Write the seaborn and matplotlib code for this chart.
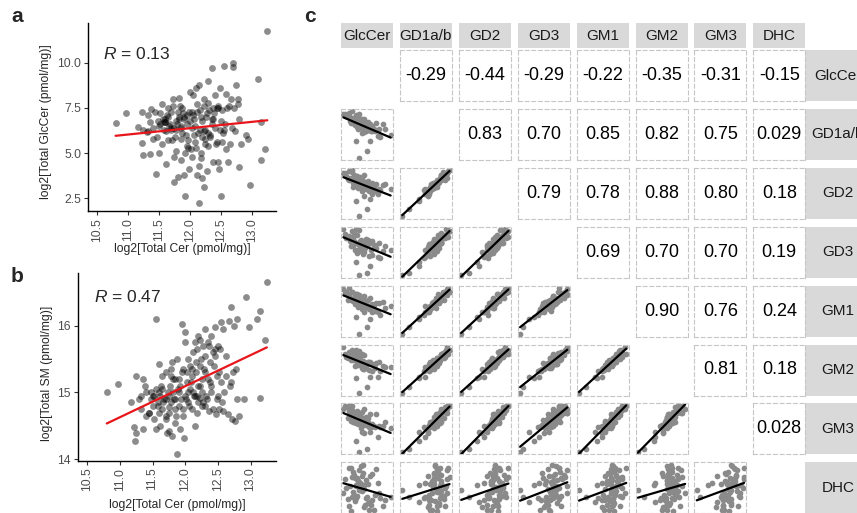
import numpy as np
import pandas as pd
import matplotlib.pyplot as plt
import seaborn as sns

# ---- panels a / b : per-sample totals (log2 pmol/mg) ----
cer = [10.80, 10.97, 11.23, 11.17, 11.25, 11.22, 11.25, 11.35, 11.30, 11.35, 11.38, 11.32, 11.40, 11.40,
       11.45, 11.47, 11.50, 11.52, 11.55, 11.55, 11.58, 11.60, 11.62, 11.62, 11.65, 11.65, 11.68, 11.60, 11.50, 11.48, 11.70, 11.70,
       11.72, 11.75, 11.75, 11.75, 11.78, 11.78, 11.80, 11.80, 11.82, 11.82, 11.85, 11.85, 11.88, 11.88, 11.90, 11.92, 11.92,
       11.95, 11.95, 11.97, 11.98, 11.90, 11.85, 12.00, 12.00,
       12.02, 12.03, 12.05, 12.05, 12.07, 12.08, 12.10, 12.10, 12.12, 12.12, 12.15, 12.15, 12.15, 12.17, 12.18, 12.18,
       12.20, 12.20, 12.22, 12.22, 12.22, 12.25, 12.25, 12.27, 12.28, 12.30, 12.30, 12.30,
       12.32, 12.35, 12.35, 12.37, 12.38, 12.40, 12.40, 12.42, 12.45, 12.45, 12.47, 12.48, 12.50, 12.50, 12.52, 12.52,
       12.55, 12.55, 12.58, 12.58, 12.60,
       12.62, 12.65, 12.67, 12.70, 12.70, 12.72, 12.73, 12.75, 12.77, 12.78, 12.80, 12.80, 12.83, 12.90, 12.93, 12.97,
       13.10, 13.15, 13.15, 13.22, 13.25,
       11.52, 11.56, 11.60, 11.63, 11.66, 11.70, 11.73, 11.76, 11.79, 11.83, 11.86, 11.89, 11.93, 11.96, 11.99,
       12.03, 12.06, 12.09, 12.13, 12.16, 12.19, 12.23, 12.26, 12.29, 12.33, 12.36, 12.39, 12.43, 12.46, 12.49,
       11.58, 11.64, 11.71, 11.77, 11.84, 11.91, 11.97, 12.04, 12.11, 12.18, 12.24, 12.31, 12.38, 12.44, 12.53,
       12.57, 12.63, 12.68, 11.44, 11.33]

glccer = [6.65, 7.2, 7.3, 6.45, 6.3, 5.55, 4.9, 4.95, 6.15, 6.7, 7.45, 7.1, 5.8, 6.4,
          3.85, 5.9, 6.5, 7.2, 5.5, 7.7, 6.7, 6.75, 4.4, 6.2, 7.5, 5.7, 6.6, 6.9, 5.0, 6.8, 7.3, 6.4,
          8.0, 6.4, 4.8, 3.4, 6.3, 5.1, 7.3, 3.65, 6.9, 8.05, 5.8, 4.6, 7.5, 6.1, 3.8, 2.6, 5.0,
          7.1, 6.6, 5.7, 4.1, 7.0, 6.5, 8.4, 6.8,
          5.2, 4.8, 7.1, 8.2, 6.0, 6.5, 8.6, 5.3, 7.3, 3.8, 2.25, 4.3, 8.8, 6.3, 7.0, 5.0,
          3.6, 6.8, 8.0, 7.6, 3.1, 5.8, 6.3, 4.0, 7.2, 9.0, 6.1, 7.8,
          5.9, 9.7, 6.9, 4.5, 7.5, 8.2, 6.4, 5.5, 7.5, 4.5, 4.1, 8.6, 2.6, 6.8, 5.6, 7.4,
          9.85, 6.3, 8.3, 5.2, 7.5,
          4.5, 5.5, 8.0, 10.0, 9.8, 7.5, 6.2, 8.8, 8.0, 7.7, 6.9, 4.2, 5.5, 6.0, 5.8, 3.25,
          9.1, 6.7, 4.6, 5.2, 11.75,
          6.6, 6.9, 6.7, 7.1, 6.5, 6.3, 7.6, 5.9, 6.6, 7.0, 6.4, 7.2, 6.0, 5.4, 7.3,
          7.3, 6.9, 5.6, 6.1, 7.4, 5.9, 6.2, 7.0, 5.4, 6.0, 6.6, 7.2, 5.6, 7.6, 6.3,
          6.3, 7.0, 5.7, 6.8, 7.6, 6.9, 5.3, 6.4, 7.7, 4.7, 5.5, 7.4, 6.9, 7.5, 6.1,
          6.6, 7.6, 6.4, 7.3, 6.2]

sm = [15.0, 15.12, 14.27, 14.85, 15.25, 14.48, 14.4, 14.45, 14.9, 15.2, 15.1, 14.75, 14.65, 15.0,
      14.7, 15.0, 14.95, 14.6, 16.1, 14.45, 14.85, 15.42, 14.5, 14.95, 15.05, 14.75, 14.9, 15.0, 14.8, 14.9, 15.3, 14.6,
      14.4, 14.95, 14.7, 14.42, 15.35, 14.85, 15.45, 14.35, 15.2, 15.0, 14.55, 14.9, 15.5, 14.08, 14.8, 14.45, 15.1,
      16.02, 15.3, 14.75, 14.32, 15.0, 15.2, 15.75, 15.9,
      14.9, 15.15, 15.5, 14.85, 15.05, 15.4, 14.75, 15.25, 15.0, 15.6, 14.5, 14.95, 15.75, 15.3, 15.65, 14.7,
      15.85, 15.1, 14.92, 15.4, 15.78, 15.0, 15.2, 14.85, 15.7, 15.95, 15.3, 15.55,
      14.95, 15.75, 15.2, 14.72, 15.45, 15.85, 15.0, 15.6, 15.55, 15.98, 14.68, 15.25, 15.7, 14.95, 14.75, 15.3,
      16.05, 15.15, 15.95, 14.72, 15.0,
      15.25, 14.68, 16.07, 16.27, 15.15, 14.6, 15.3, 16.0, 14.57, 15.35, 16.1, 14.9, 14.65, 14.9, 16.42, 15.98,
      16.1, 16.22, 14.92, 15.78, 16.65,
      14.95, 15.05, 14.7, 15.1, 14.85, 14.65, 15.0, 14.78, 15.25, 14.9, 14.65, 15.05, 14.9, 15.35, 14.95,
      15.3, 14.8, 15.15, 14.95, 15.45, 14.85, 15.1, 14.8, 15.35, 14.9, 15.7, 15.1, 14.75, 15.65, 14.9,
      14.8, 15.25, 14.9, 15.1, 14.75, 15.2, 14.65, 15.0, 15.35, 14.95, 15.5, 14.8, 15.15, 15.4, 15.65,
      14.85, 15.55, 15.1, 14.7, 14.95]

# ---- panel c : lipid species (scaled) ----
species = ["GlcCer", "GD1a/b", "GD2", "GD3", "GM1", "GM2", "GM3", "DHC"]
row_labels = ["GlcCer", "GD1a/b", "GD2", "GD3", "GM1", "GM2", "GM3", "DHC"]

glccer_c = [3.0, 4.5, 2.5, 5.0, 6.5, 4.0, 7.0, 3.5, 5.5, 9.0, 4.8, 2.8, 6.0, 3.8, 5.2, 8.0, 3.3, 4.4, 2.6, 5.8,
            3.9, 6.8, 2.2, 4.6, 3.4, 7.5, 2.9, 4.1, 5.4, 1.8, 3.6, 6.2, 2.4, 4.3, 1.5, 3.1, 5.0, 2.0, 3.7, 1.2,
            4.7, 2.7, 1.9, 3.5, 0.8, 2.3, 4.0, 1.4, 2.6, 3.2, 1.0, 2.1, 0.5, 3.0, 1.6, 0.3, 2.4, 1.1, 0.0, 1.7]
gd1ab = [0.2, 1.7, 3.7, 3.7, 4.9, 5.6, 4.7, 5.5, 5.9, 5.0, 6.0, 6.4, 5.8, 6.9, 5.8, 6.3, 6.9, 5.8, 6.8, 6.4,
         7.3, 6.4, 7.1, 6.0, 7.0, 7.4, 6.6, 7.9, 6.9, 7.5, 6.6, 7.5, 8.0, 6.9, 7.5, 7.9, 7.3, 8.3, 7.0, 8.0,
         7.8, 8.4, 7.6, 8.4, 9.0, 7.6, 8.4, 8.1, 9.0, 8.4, 9.1, 8.3, 9.1, 9.6, 8.7, 9.6, 9.3, 9.8, 9.5, 10.1]
gd2 = [0.1, 1.7, 3.4, 4.0, 4.9, 4.6, 5.8, 5.6, 5.0, 6.1, 5.6, 6.4, 5.7, 6.2, 5.6, 7.1, 6.6, 6.0, 7.0, 6.4,
       6.8, 6.0, 7.3, 6.5, 7.3, 6.9, 6.5, 7.7, 7.3, 6.6, 7.5, 7.1, 8.2, 7.0, 8.0, 7.6, 6.8, 8.1, 7.4, 8.5,
       7.8, 8.2, 7.4, 8.5, 8.2, 7.8, 9.1, 8.2, 9.0, 8.8, 8.0, 9.2, 9.0, 8.5, 9.7, 9.6, 9.0, 10.1, 9.5, 10.2]
gd3 = [1.1, 1.6, 3.8, 2.9, 4.8, 5.8, 4.6, 6.8, 5.2, 6.2, 4.9, 6.2, 7.1, 5.4, 6.2, 6.9, 5.9, 7.3, 5.5, 6.8,
       6.5, 7.5, 6.1, 7.3, 8.1, 6.0, 7.2, 6.6, 7.9, 6.9, 7.8, 6.6, 7.6, 8.3, 6.9, 8.0, 7.5, 8.0, 7.3, 8.0,
       8.2, 7.5, 8.8, 7.5, 8.7, 9.1, 7.6, 8.6, 9.1, 7.6, 9.0, 9.6, 8.6, 10.2, 8.5, 9.3, 10.3, 8.7, 10.3, 9.9]
gm1 = [0.3, 1.8, 4.1, 3.7, 5.1, 5.1, 4.4, 5.8, 5.2, 6.4, 5.7, 6.2, 5.4, 6.5, 6.2, 5.9, 7.1, 6.2, 7.0, 6.7,
       5.9, 7.1, 6.8, 6.3, 7.5, 7.2, 6.6, 7.5, 6.8, 7.4, 7.3, 7.0, 7.5, 7.3, 7.8, 7.1, 8.2, 7.9, 7.2, 8.2,
       7.7, 8.4, 7.7, 8.2, 7.6, 9.0, 8.6, 8.0, 9.0, 8.5, 8.9, 8.1, 9.5, 8.7, 9.5, 9.3, 8.9, 10.3, 10.0, 9.4]
gm2 = [0.1, 1.5, 3.6, 3.8, 3.8, 5.6, 5.1, 5.7, 5.0, 5.9, 5.4, 6.4, 5.8, 5.5, 6.6, 6.0, 6.4, 6.2, 6.8, 6.4,
       6.4, 7.0, 6.2, 7.2, 6.6, 6.3, 7.5, 6.9, 6.7, 7.9, 7.0, 6.8, 7.5, 6.6, 7.9, 7.5, 7.0, 8.3, 7.4, 7.9,
       7.2, 8.2, 7.6, 8.9, 8.1, 7.7, 8.7, 7.5, 8.7, 8.3, 9.3, 8.6, 8.2, 9.5, 9.1, 8.9, 9.7, 9.0, 10.5, 9.8]
gm3 = [0.9, 1.5, 3.1, 4.8, 3.8, 4.6, 5.7, 4.8, 5.9, 5.5, 5.7, 6.3, 5.7, 6.2, 5.8, 6.8, 5.5, 6.1, 7.2, 6.0,
       6.9, 6.0, 7.1, 6.7, 7.7, 5.9, 6.6, 7.5, 6.4, 7.3, 7.0, 8.2, 6.5, 7.8, 7.0, 7.5, 8.3, 6.8, 7.4, 8.6,
       7.5, 8.2, 6.8, 8.6, 7.5, 8.1, 9.3, 7.9, 8.9, 7.7, 8.8, 8.4, 9.7, 8.5, 9.1, 9.8, 8.4, 9.9, 9.2, 9.8]
dhc = [4.5, 3.0, 5.5, 2.0, 6.0, 1.0, 2.8, 7.5, 2.5, 3.0, 0.3, 6.5, 3.5, 8.0, 1.5, 2.5, 5.8, 2.8, 7.0, 0.5,
       4.8, 4.0, 2.2, 5.8, 9.5, 1.2, 6.2, 1.5, 7.8, 4.2, 5.2, 8.8, 2.8, 6.6, 0.2, 4.6, 7.4, 3.6, 9.8, 5.4,
       1.8, 6.4, 8.2, 4.4, 2.6, 7.0, 5.6, 9.2, 3.4, 6.0, 1.2, 7.6, 4.9, 8.6, 3.0, 6.8, 5.3, 9.0, 4.0, 7.2]

# correlation labels shown in the upper triangle (row by row)
corr_text = [
    ["-0.29", "-0.44", "-0.29", "-0.22", "-0.35", "-0.31", "-0.15"],
    ["0.83", "0.70", "0.85", "0.82", "0.75", "0.029"],
    ["0.79", "0.78", "0.88", "0.80", "0.18"],
    ["0.69", "0.70", "0.70", "0.19"],
    ["0.90", "0.76", "0.24"],
    ["0.81", "0.18"],
    ["0.028"],
]

cells = pd.DataFrame(dict(zip(species, [glccer_c, gd1ab, gd2, gd3, gm1, gm2, gm3, dhc])))

sns.set_style("white")
plt.rcParams["font.family"] = ["Liberation Sans", "DejaVu Sans"]
plt.rcParams["mathtext.fontset"] = "custom"
plt.rcParams["mathtext.it"] = "Liberation Sans:italic"
plt.rcParams["mathtext.rm"] = "Liberation Sans"

W, H = 857, 513
fig = plt.figure(figsize=(W / 100, H / 100), dpi=100)


def box(x0, y0, x1, y1):
    # pixel box (top-left origin) -> figure fraction
    return [x0 / W, 1 - y1 / H, (x1 - x0) / W, (y1 - y0) / H]


def scatter_panel(pos, y, ylim, yticks, ytick_fmt, ylabel, ylab_xy, xlab_y, rtext, rxy):
    ax = fig.add_axes(box(*pos))
    sns.regplot(x=cer, y=y, ax=ax, ci=None, truncate=True,
                scatter_kws=dict(color="black", alpha=0.45, s=24, linewidths=0),
                line_kws=dict(color="#e8161b", lw=1.6))
    ax.set_xlim(10.355, 13.39)
    ax.set_ylim(*ylim)
    ax.set_xticks([10.5, 11.0, 11.5, 12.0, 12.5, 13.0])
    ax.set_xticklabels(["10.5", "11.0", "11.5", "12.0", "12.5", "13.0"], rotation=90)
    ax.set_yticks(yticks)
    ax.set_yticklabels([ytick_fmt.format(v) for v in yticks])
    sns.despine(ax=ax)
    for s in ["left", "bottom"]:
        ax.spines[s].set_color("black")
        ax.spines[s].set_linewidth(1.0)
    ax.tick_params(bottom=True, left=True, length=3, width=0.8, color="#333333",
                   labelcolor="#4d4d4d", labelsize=8.7, pad=2)
    ax.set_xlabel("log2[Total Cer (pmol/mg)]", fontsize=8.7)
    ax.set_ylabel(ylabel, fontsize=8.7)
    ax.xaxis.set_label_coords(0.5, xlab_y)
    ax.xaxis.label.set_va("center")
    ax.yaxis.set_label_coords(*ylab_xy)
    ax.yaxis.label.set_va("center")
    fig.text(rxy[0] / W, 1 - rxy[1] / H, rtext, fontsize=12.5, va="center", ha="left")
    return ax


scatter_panel((88, 23, 276, 211), glccer, (1.78, 12.22), [2.5, 5.0, 7.5, 10.0], "{:.1f}",
              "log2[Total GlcCer (pmol/mg)]", (-0.225, 0.476), -0.2, r"$R$ = 0.13", (103, 54))
scatter_panel((77.7, 273.3, 276, 460.7), sm, (13.98, 16.78), [14, 15, 16], "{:.0f}",
              "log2[Total SM (pmol/mg)]", (-0.155, 0.465), -0.236, r"$R$ = 0.47", (94, 297))

for lab, (x, y) in zip(["a", "b", "c"], [(11, 16), (11, 277), (304, 17)]):
    fig.text(x / W, 1 - y / H, lab, fontsize=15, fontweight="bold", va="center", ha="left")

# ---- panel c : pairs matrix ----
pitch, cw, ch = 58.9, 52, 51
left0, top0 = 341, 50
lims = {}
for name in species:
    lo, hi = cells[name].min(), cells[name].max()
    pad = (hi - lo) * 0.05
    lims[name] = (lo - pad, hi + pad)

for j, name in enumerate(species):
    x0 = left0 + pitch * j
    ax = fig.add_axes(box(x0, 23, x0 + cw, 48))
    ax.set_facecolor("#d9d9d9")
    ax.set_xticks([]); ax.set_yticks([])
    for s in ax.spines.values():
        s.set_visible(False)
    ax.text(0.5, 0.5, name, ha="center", va="center", fontsize=11, color="#1a1a1a")

for i, name in enumerate(row_labels):
    y0 = top0 + pitch * i
    ax = fig.add_axes(box(805, y0, 872, y0 + ch))
    ax.set_facecolor("#d9d9d9")
    ax.set_xticks([]); ax.set_yticks([])
    for s in ax.spines.values():
        s.set_visible(False)
    ax.text(0.49, 0.5, name, ha="center", va="center", fontsize=11, color="#1a1a1a")

for i in range(8):
    for j in range(8):
        if i == j:
            continue
        x0 = left0 + pitch * j
        y0 = top0 + pitch * i
        ax = fig.add_axes(box(x0, y0, x0 + cw, y0 + ch))
        if i > j:
            sns.regplot(data=cells, x=species[j], y=species[i], ax=ax, ci=None,
                        scatter_kws=dict(color="#8a8a8a", s=17, linewidths=0, alpha=1),
                        line_kws=dict(color="black", lw=1.6))
            ax.set_xlim(*lims[species[j]])
            ax.set_ylim(*lims[species[i]])
            ax.set_xlabel("")
            ax.set_ylabel("")
        else:
            ax.text(0.5, 0.5, corr_text[i][j - i - 1], ha="center", va="center",
                    fontsize=13, color="black", transform=ax.transAxes)
        ax.set_xticks([]); ax.set_yticks([])
        for s in ax.spines.values():
            s.set_visible(True)
            s.set_linestyle((0, (3.5, 2.5)))
            s.set_color("#c6c6c6")
            s.set_linewidth(0.8)

fig.savefig("out.png", dpi=100)
